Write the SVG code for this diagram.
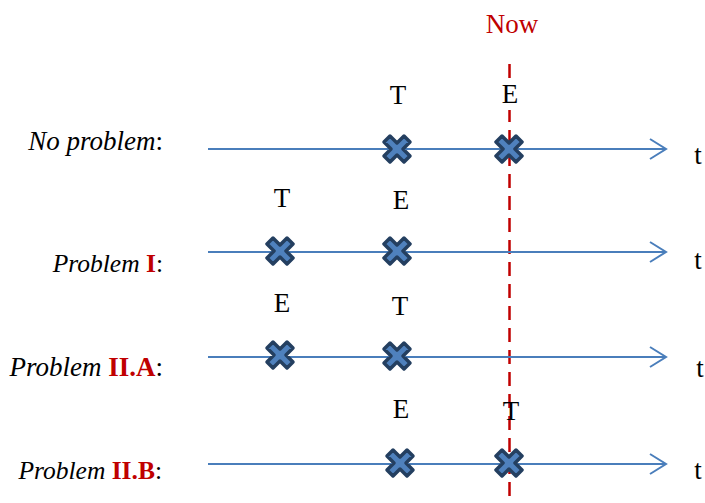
<svg xmlns="http://www.w3.org/2000/svg" width="705" height="503" viewBox="0 0 705 503">
<defs>
<style>
.ax{stroke:#4A7EBB;stroke-width:2;fill:none}
.ah{stroke:#4A7EBB;stroke-width:2;fill:none;stroke-linejoin:miter}
.t{font-family:"Liberation Serif",serif;font-size:27px;fill:#000;text-anchor:middle}
.lbl{font-family:"Liberation Serif",serif;font-size:27px;fill:#000;text-anchor:end}
.sm{font-size:25.5px}
.it{font-style:italic}
.red{fill:#C00000;font-weight:bold;font-style:normal}
.xm{fill:#4F81BD;stroke:#243F60;stroke-width:3.5;stroke-linejoin:round}
</style>
<path id="cross" d="M-7,-13 L0,-6 L7,-13 L13,-7 L6,0 L13,7 L7,13 L0,6 L-7,13 L-13,7 L-6,0 L-13,-7 Z"/>
</defs>
<rect width="705" height="503" fill="#fff"/>
<g id="now">
<line x1="509.5" y1="64" x2="509.5" y2="500" stroke="#C00000" stroke-width="2.5" stroke-dasharray="14,8"/>
<text class="t" x="512" y="33" style="fill:#C00000">Now</text>
</g>
<g id="connectors">
<line class="ax" x1="208" y1="149" x2="666" y2="149"/>
<polyline class="ah" points="650,139 666,149 650,159"/>
<line class="ax" x1="208" y1="252" x2="666" y2="252"/>
<polyline class="ah" points="650,242 666,252 650,262"/>
<line class="ax" x1="208" y1="357" x2="666" y2="357"/>
<polyline class="ah" points="650,347 666,357 650,367"/>
<line class="ax" x1="208" y1="464" x2="666" y2="464"/>
<polyline class="ah" points="650,454 666,464 650,474"/>
</g>
<g id="row1">
<text class="lbl it" x="163" y="150">No problem<tspan style="font-style:normal">:</tspan></text>
<use href="#cross" class="xm" x="397" y="149"/>
<use href="#cross" class="xm" x="509" y="149"/>
<text class="t" x="398" y="104">T</text>
<rect x="498" y="78" width="24" height="32" fill="#fff"/>
<text class="t" x="510" y="103">E</text>
<text class="t" x="698" y="164">t</text>
</g>
<g id="row2">
<text class="lbl it sm" x="163" y="272">Problem <tspan class="red">I</tspan><tspan style="font-style:normal">:</tspan></text>
<use href="#cross" class="xm" x="280" y="251"/>
<use href="#cross" class="xm" x="397" y="251"/>
<text class="t" x="282" y="207">T</text>
<text class="t" x="401" y="209">E</text>
<text class="t" x="698" y="269">t</text>
</g>
<g id="row3">
<text class="lbl it" x="163" y="376">Problem <tspan class="red">II.A</tspan><tspan style="font-style:normal">:</tspan></text>
<use href="#cross" class="xm" x="280" y="355"/>
<use href="#cross" class="xm" x="397" y="356"/>
<text class="t" x="282" y="312">E</text>
<text class="t" x="400" y="315">T</text>
<text class="t" x="700" y="377">t</text>
</g>
<g id="row4">
<text class="lbl it sm" x="162" y="479">Problem <tspan class="red">II.B</tspan><tspan style="font-style:normal">:</tspan></text>
<use href="#cross" class="xm" x="400" y="463"/>
<use href="#cross" class="xm" x="509" y="463"/>
<text class="t" x="401" y="418">E</text>
<text class="t" x="511" y="420">T</text>
<text class="t" x="698" y="479">t</text>
</g>
</svg>
